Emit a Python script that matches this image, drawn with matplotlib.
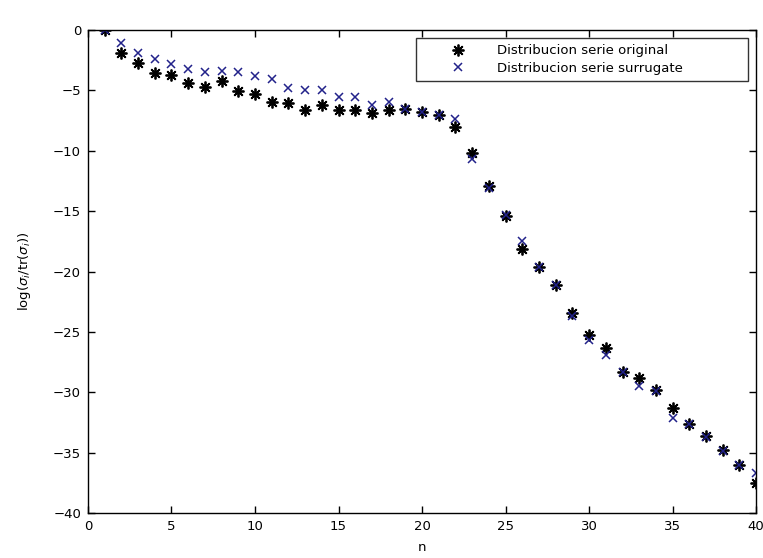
import matplotlib
matplotlib.use("Agg")
import matplotlib.pyplot as plt
import numpy as np

# eigenvalue index
n = np.arange(1, 41)

# log(sigma_i / tr(sigma_i)) for the original series
original = [0.0, -1.93, -2.76, -3.54, -3.73, -4.42, -4.70, -4.23, -5.03, -5.30,
            -5.94, -6.00, -6.63, -6.21, -6.63, -6.63, -6.90, -6.63, -6.57, -6.77,
            -7.04, -8.01, -10.15, -12.95, -15.40, -18.09, -19.60, -21.10, -23.47, -25.27,
            -26.37, -28.30, -28.78, -29.80, -31.27, -32.60, -33.60, -34.75, -36.00, -37.55]

# same for the surrogate series
surrogate = [0.0, -1.05, -1.88, -2.43, -2.82, -3.26, -3.48, -3.37, -3.48, -3.84,
             -4.03, -4.83, -4.92, -4.92, -5.52, -5.52, -6.21, -5.94, -6.57, -6.77,
             -7.04, -7.32, -10.70, -13.05, -15.30, -17.45, -19.60, -21.10, -23.70, -25.70,
             -26.90, -28.30, -29.50, -29.90, -32.10, -32.60, -33.70, -34.90, -36.05, -36.70]

fs = 9.5

fig = plt.figure(figsize=(7.63, 5.58), dpi=100)
ax = fig.add_axes([0.1153, 0.0806, 0.8757, 0.8654])

# matlab style '*' = plus and cross together
ax.plot(n, original, marker=(8, 2, 0), color="black", markersize=8.5,
        markeredgewidth=1.3, linestyle="none", label="Distribucion serie original")
ax.plot(n, surrogate, "x", color="#22228a", markersize=5.5, markeredgewidth=1.1,
        linestyle="none", label="Distribucion serie surrugate")

ax.set_xlim(0, 40)
ax.set_ylim(-40, 0)
ax.set_xticks(np.arange(0, 41, 5))
ax.set_yticks(np.arange(-40, 1, 5))
ax.tick_params(direction="in", top=True, right=True, length=5, width=1,
               labelsize=fs, pad=5)
for s in ax.spines.values():
    s.set_linewidth(1.0)

ax.set_xlabel("n", fontsize=fs, labelpad=6)
ax.set_ylabel(r"log($\sigma_i$/tr($\sigma_i$))", fontsize=fs, labelpad=14)

leg = ax.legend(loc="upper left", bbox_to_anchor=(0.491, 0.0, 0.497, 0.983),
                mode="expand", borderaxespad=0, fontsize=fs, frameon=True,
                fancybox=False, edgecolor="black", handlelength=5.4,
                handletextpad=0.3, borderpad=0.45, labelspacing=0.35)
leg.get_frame().set_linewidth(1.0)

fig.savefig("out.png", dpi=100)
